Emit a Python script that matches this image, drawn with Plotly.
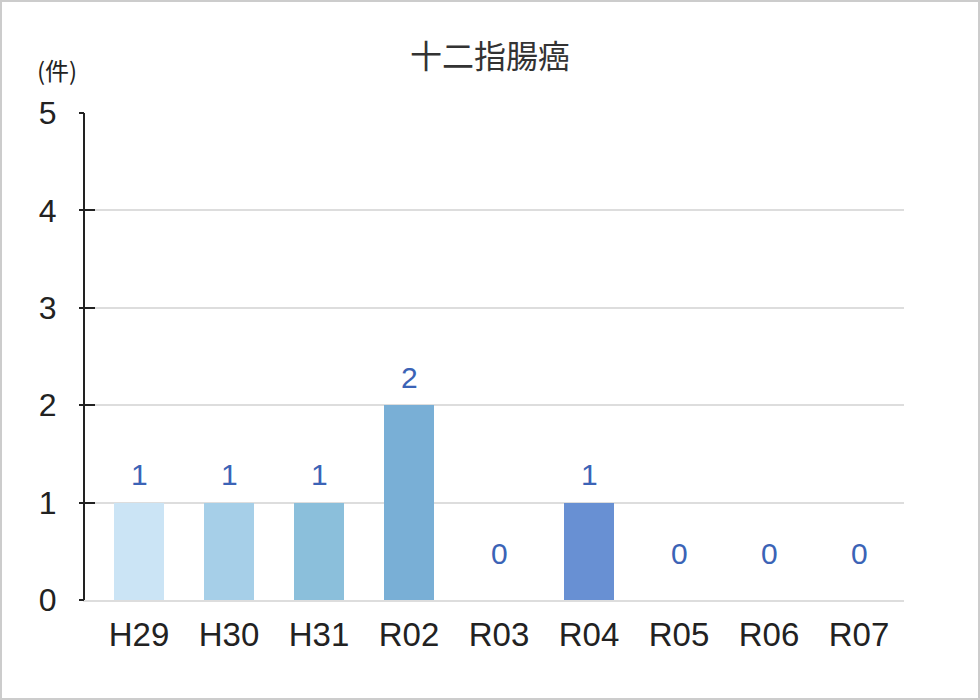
import plotly.graph_objects as go

categories = ["H29", "H30", "H31", "R02", "R03", "R04", "R05", "R06", "R07"]
values = [1, 1, 1, 2, 0, 1, 0, 0, 0]
bar_colors = ["#cbe4f5", "#a6cfe8", "#8bbfdb", "#79afd6", "#6fa0d5",
              "#6890d3", "#5f7fcf", "#566fca", "#4c5fc4"]
y_ticks = [0, 1, 2, 3, 4, 5]
title_text = "十二指腸癌"
unit_text = "(件)"

FONT = "Liberation Sans, Noto Sans CJK JP, sans-serif"
CJK = "Noto Sans CJK JP, sans-serif"
W, H = 980, 700
ML, MR, MT, MB = 85, 76, 113, 100
PW, PH = W - ML - MR, H - MT - MB

fig = go.Figure()
fig.add_trace(go.Bar(
    x=list(range(len(categories))), y=values,
    marker=dict(color=bar_colors, line=dict(width=0)),
    width=0.556, hoverinfo="skip", showlegend=False,
))
fig.add_trace(go.Scatter(
    x=list(range(len(categories))), y=values, yaxis="y2",
    mode="markers", marker=dict(opacity=0), hoverinfo="skip", showlegend=False,
))

for i, v in enumerate(values):
    fig.add_annotation(
        x=i, y=v, xref="x", yref="y", text=str(v), showarrow=False,
        yshift=28 if v > 0 else 47, yanchor="middle",
        font=dict(family=FONT, size=30, color="#3b63b6"),
    )

fig.add_annotation(
    xref="paper", yref="paper", x=(57 - ML) / PW, y=1 + (MT - 69) / PH,
    text=unit_text, showarrow=False, xanchor="center", yanchor="middle",
    font=dict(family=CJK, size=24, color="#222222"),
)

fig.add_shape(
    type="rect", xref="paper", yref="paper",
    x0=(1 - ML) / PW, x1=(W - 1 - ML) / PW,
    y0=-(MB - 1) / PH, y1=1 + (MT - 1) / PH,
    line=dict(color="#cccccc", width=2), layer="below",
)

fig.update_layout(
    width=W, height=H,
    margin=dict(l=ML, r=MR, t=MT, b=MB, pad=0),
    paper_bgcolor="white", plot_bgcolor="white",
    title=dict(text=title_text, x=0.5, xref="container", xanchor="center",
               y=1 - 57 / H, yanchor="middle",
               font=dict(family=CJK, size=32, color="#333333")),
    bargap=0,
    xaxis=dict(
        range=[-0.6, 8.5], tickmode="array",
        tickvals=list(range(len(categories))), ticktext=categories,
        showgrid=False, zeroline=False,
        showline=True, linecolor="#dddddd", linewidth=2, ticks="",
        tickfont=dict(family=FONT, size=33, color="#222222"),
        ticklabelstandoff=4, fixedrange=True,
    ),
    yaxis=dict(
        range=[0, 5], tickvals=y_ticks, showticklabels=False,
        showgrid=True, gridcolor="#dddddd", gridwidth=2,
        zeroline=False, showline=True, linecolor="#222222", linewidth=2,
        ticks="inside", ticklen=10, tickwidth=2, tickcolor="#222222",
    ),
    yaxis2=dict(
        range=[0, 5], tickvals=y_ticks, overlaying="y", side="left", anchor="x",
        showgrid=False, zeroline=False, showline=False,
        ticks="outside", ticklen=5, tickwidth=2, tickcolor="#222222",
        tickfont=dict(family=FONT, size=32, color="#222222"),
        ticklabelstandoff=16,
    ),
)

fig.write_html("out.html")
